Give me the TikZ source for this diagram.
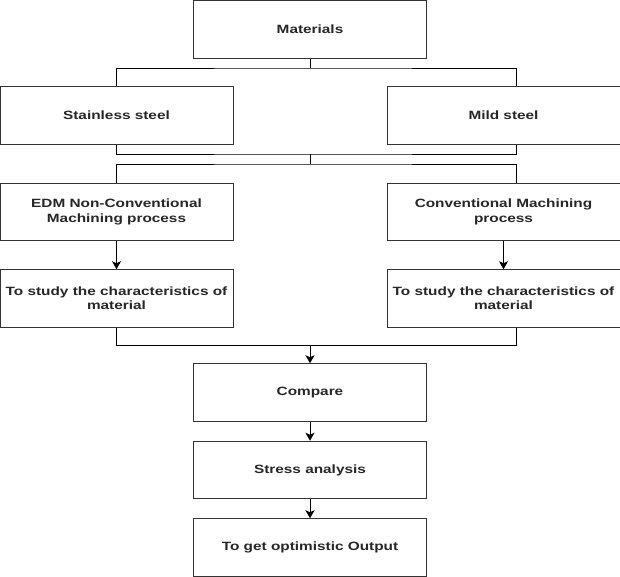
\documentclass[tikz,border=0pt]{standalone}
\usepackage{fontspec}
\setmainfont[FakeStretch=1.28]{Liberation Sans}
\usetikzlibrary{positioning,arrows.meta}

\begin{document}
\begin{tikzpicture}[x=1pt,y=-1pt,
    box/.style={rectangle,draw=black!80,line width=1pt,minimum width=233pt,minimum height=57.5pt,
      inner sep=0pt,align=center,text=black!85,font=\bfseries\fontsize{12}{14.3}\selectfont},
    every path/.style={line width=1pt},
    >={Stealth[length=8pt,width=9pt,inset=2pt]}]
    \useasboundingbox (0,0) rectangle (620,576);
    \node[box] (mat) at (310,29.5) {Materials};
    \node[box] (ss) at (116.5,115.5) {Stainless steel};
    \node[box] (ms) at (503.5,115.5) {Mild steel};
    \node[box,below=38pt of ss] (edm) {EDM Non-Conventional\\Machining process};
    \node[box,below=38pt of ms] (conv) {Conventional Machining\\process};
    \node[box,below=28pt of edm] (st1) {To study the characteristics of\\material};
    \node[box,below=28pt of conv] (st2) {To study the characteristics of\\material};
    \node[box] (cmp) at (310,392.5) {Compare};
    \node[box,below=19pt of cmp] (sa) {Stress analysis};
    \node[box,below=19pt of sa] (out) {To get optimistic Output};
    % junctions
    \coordinate (j1) at (310,68);
    \coordinate (j2) at (310,154);
    \coordinate (j3) at (310,164);
    \coordinate (j4) at (310,345.5);
    \draw (mat) -- (j1);
    \draw (ss.north) |- (j1) -| ([xshift=12.5pt]ms.north);
    \draw (ss.south) |- (j2) -| ([xshift=12.5pt]ms.south);
    \draw (j2) -- (j3);
    \draw (edm.north) |- (j3) -| ([xshift=12.5pt]conv.north);
    \draw[->] (edm) -- (st1);
    \draw[->] (conv) -- (st2);
    \draw (st1.south) |- (j4) -| ([xshift=12.5pt]st2.south);
    \draw[->] (j4) -- (cmp);
    \draw[->] (cmp) -- (sa);
    \draw[->] (sa) -- (out);
\end{tikzpicture}
\end{document}
